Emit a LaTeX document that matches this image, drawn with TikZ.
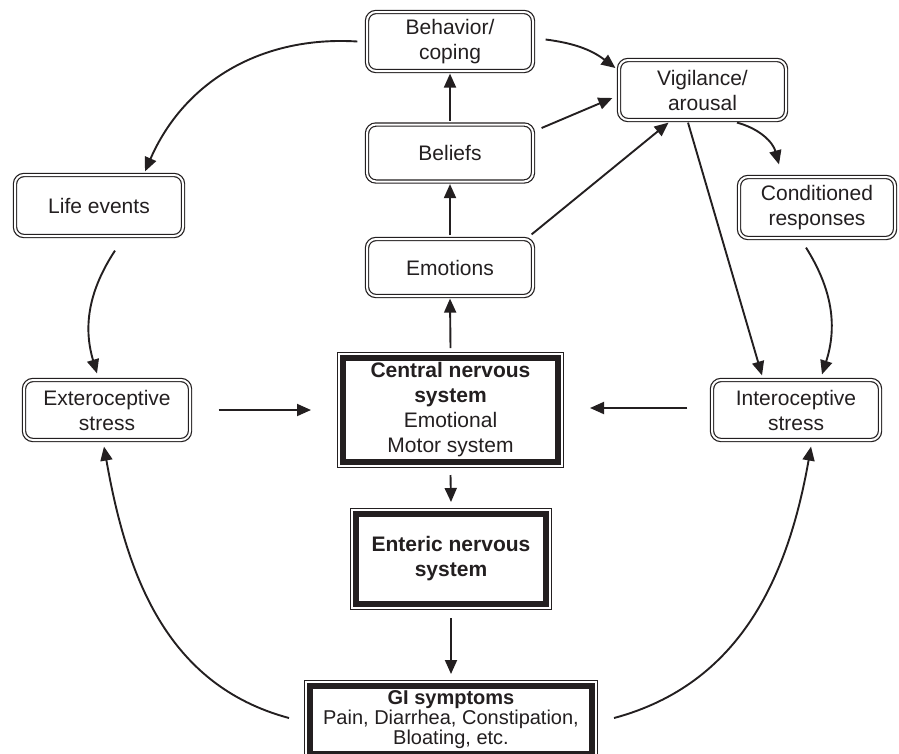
\documentclass[tikz,border=0pt]{standalone}
\usepackage{fontspec}
\setmainfont{Liberation Sans}
\usetikzlibrary{arrows.meta}
\definecolor{ink}{HTML}{231F20}
\begin{document}
\begin{tikzpicture}[x=1pt,y=1pt,
  every node/.style={text=ink},
  thinbox/.style={draw=ink, double, double distance=2pt, line width=1.2pt, rounded corners=9pt,
    align=center, inner sep=0pt, fill=white, font=\fontsize{21}{25}\selectfont},
  thickbox/.style={fill=white, draw=ink, line width=6pt, align=center, inner sep=0pt,
    font=\fontsize{21}{25}\selectfont,
    preaction={draw=ink, line width=12pt},
    preaction={draw=white, line width=9.5pt}},
  arr/.style={-{Triangle[length=14pt,width=12pt]}, line width=1.9pt, draw=ink}]
\useasboundingbox (0,0) rectangle (899,-753);

\node[thinbox, minimum width=166, minimum height=59] (beh) at (450,-41.5) {Behavior/\\coping};
\node[thinbox, minimum width=167, minimum height=60] (vig) at (702.5,-90) {Vigilance/\\arousal};
\node[thinbox, minimum width=166, minimum height=57] (bel) at (450,-153) {Beliefs};
\node[thinbox, minimum width=166, minimum height=57] (emo) at (450,-267.5) {Emotions};
\node[thinbox, minimum width=168, minimum height=61] (life) at (99,-205.5) {Life events};
\node[thinbox, minimum width=156, minimum height=61] (cond) at (817,-207.5) {Conditioned\\responses};
\node[thinbox, minimum width=166, minimum height=60] (ext) at (107,-410) {Exteroceptive\\stress};
\node[thinbox, minimum width=168, minimum height=60] (int) at (796,-410) {Interoceptive\\stress};
\node[thickbox, minimum width=215, minimum height=104] (cns) at (450.5,-410)
  {\textbf{Central nervous}\\\textbf{system}\\Emotional\\Motor system};
\node[thickbox, minimum width=190, minimum height=90] (ens) at (451,-559)
  {\textbf{Enteric nervous}\\\textbf{system}};
\node[thickbox, minimum width=282, minimum height=68, font=\fontsize{20}{20}\selectfont] (gi) at (451,-720)
  {\textbf{GI symptoms}\\Pain, Diarrhea, Constipation,\\Bloating, etc.};

\draw[arr] ([xshift=-9]beh.west) to[bend right=35] ([xshift=46,yshift=3]life.north);
\draw[arr] ([xshift=12,yshift=2]beh.east) to[bend left=15] ([xshift=-3,yshift=22]vig.west);
\draw[arr] ([yshift=3]bel.north) -- ([yshift=-2]beh.south);
\draw[arr] ([xshift=8,yshift=25]bel.east) -- ([xshift=-6,yshift=-8]vig.west);
\draw[arr] ([xshift=-2,yshift=4]emo.north east) -- ([xshift=-34,yshift=-2]vig.south);
\draw[arr] ([yshift=3]emo.north) -- ([yshift=-2]bel.south);
\draw[arr] ([yshift=7]cns.north) -- ([yshift=-2]emo.south);
\draw[arr] ([xshift=34.5,yshift=-2]vig.south) to[bend left=30] ([xshift=-38,yshift=12]cond.north);
\draw[arr] ([xshift=-14.5,yshift=-2]vig.south) -- ([xshift=-34,yshift=4]int.north);
\draw[arr] ([xshift=-11,yshift=-9]cond.south) to[bend left=25] ([xshift=26,yshift=5]int.north);
\draw[arr] ([xshift=16,yshift=-14]life.south) to[bend right=25] ([xshift=-10,yshift=6]ext.north);
\draw[arr] ([xshift=28]ext.east) -- ([xshift=-29]cns.west);
\draw[arr] ([xshift=-24,yshift=2]int.west) -- ([xshift=29,yshift=2]cns.east);
\draw[arr] ([yshift=-10]cns.south) -- ([yshift=9]ens.north);
\draw[arr] ([yshift=-11]ens.south) -- ([yshift=9]gi.north);
\draw[arr] ([xshift=-18,yshift=2]gi.west) to[out=165,in=-80] ([xshift=-3,yshift=-6]ext.south);
\draw[arr] ([xshift=19,yshift=2]gi.east) to[out=15,in=-100] ([xshift=15,yshift=-6]int.south);
\end{tikzpicture}
\end{document}
